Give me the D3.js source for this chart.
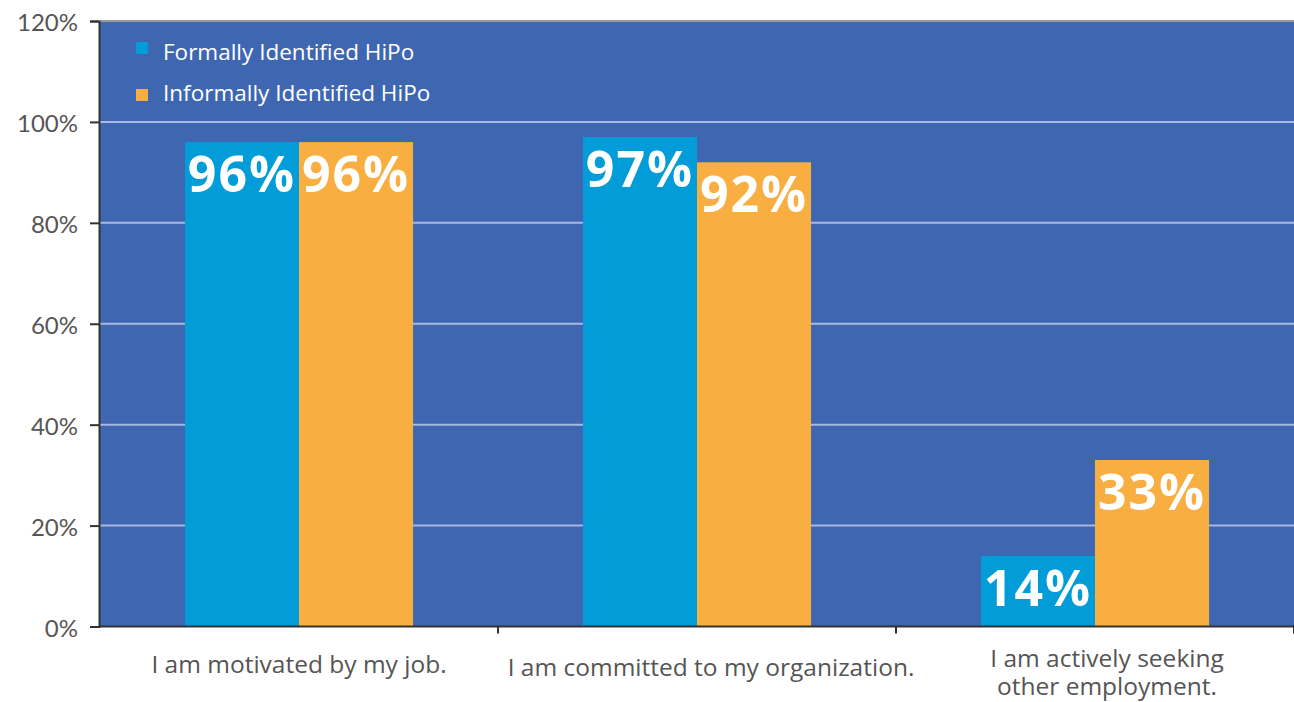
<!DOCTYPE html>
<html>
<head>
<meta charset="utf-8">
<script src="https://cdn.jsdelivr.net/npm/d3@7"></script>
<style>
    body { margin: 0; background: #fff; }
    svg { display: block; }
</style>
</head>
<body>
<div id="chart"></div>
<script>
// chart data
const categories = [
    ['I am motivated by my job.'],
    ['I am committed to my organization.'],
    ['I am actively seeking', 'other employment.']
];
const seriesNames = ['Formally Identified HiPo', 'Informally Identified HiPo'];
const formalValues = [96, 97, 14];
const informalValues = [96, 92, 33];
const yTicks = [0, 20, 40, 60, 80, 100, 120];

const config = {
    width: 1294,
    height: 702,
    margin: { top: 21, right: 0, bottom: 75, left: 100 },
    colors: ['#029dd9', '#f9ae41'],
    plotBg: '#3f67b1',
    grid: '#a9b8e0',
    // category labels sit a little off the band centre in the original
    labelShift: [0, 14, 12],
    labelBaseline: [673, 676, 667]
};

const svg = d3.select('#chart')
    .append('svg')
    .attr('width', config.width)
    .attr('height', config.height);

const x0 = d3.scaleBand()
    .domain(d3.range(categories.length))
    .range([config.margin.left, config.width - config.margin.right]);

const x1 = d3.scaleBand()
    .domain(d3.range(seriesNames.length))
    .range([0, x0.bandwidth()])
    .paddingOuter(0.745)
    .paddingInner(0);

const y = d3.scaleLinear()
    .domain([0, 120])
    .range([config.height - config.margin.bottom - 0.5, config.margin.top]);

// plot background
svg.append('rect')
    .attr('x', config.margin.left)
    .attr('y', y(120))
    .attr('width', config.width - config.margin.left - config.margin.right)
    .attr('height', y(0) - y(120))
    .attr('fill', config.plotBg);

svg.append('line')
    .attr('x1', config.margin.left).attr('x2', config.width)
    .attr('y1', y(120)).attr('y2', y(120))
    .attr('stroke', '#9a9a9a')
    .attr('stroke-width', 2);

// gridlines
svg.append('g')
    .selectAll('line')
    .data(yTicks.filter(d => d > 0 && d < 120))
    .enter()
    .append('line')
    .attr('x1', config.margin.left)
    .attr('x2', config.width)
    .attr('y1', d => y(d))
    .attr('y2', d => y(d))
    .attr('stroke', config.grid)
    .attr('stroke-width', 2);

// bars
const rows = categories.map((c, i) => [formalValues[i], informalValues[i]]);

const groups = svg.append('g')
    .selectAll('g')
    .data(rows)
    .enter()
    .append('g')
    .attr('transform', (d, i) => `translate(${x0(i)},0)`);

groups.selectAll('rect')
    .data(d => d)
    .enter()
    .append('rect')
    .attr('x', (d, j) => x1(j))
    .attr('y', d => y(d))
    .attr('width', x1.bandwidth())
    .attr('height', d => y(0) - y(d))
    .attr('fill', (d, j) => config.colors[j]);

groups.selectAll('text')
    .data(d => d)
    .enter()
    .append('text')
    .attr('x', (d, j) => x1(j) + x1.bandwidth() / 2)
    .attr('y', d => y(d) + 50)
    .attr('text-anchor', 'middle')
    .attr('fill', '#fff')
    .style('font-family', '"Open Sans", sans-serif')
    .style('font-weight', 'bold')
    .style('font-size', '50px')
    .style('letter-spacing', '2px')
    .text(d => d + '%');

// y axis
const yAxis = svg.append('g')
    .attr('transform', `translate(${config.margin.left - 1},0)`)
    .call(d3.axisLeft(y).tickValues(yTicks).tickFormat(d => d + '%').tickSize(9).tickPadding(12));
yAxis.select('.domain').attr('stroke', '#333').attr('stroke-width', 2);
yAxis.selectAll('.tick line').attr('stroke', '#333').attr('stroke-width', 2);
yAxis.selectAll('.tick text')
    .attr('fill', '#555')
    .attr('dy', '0.4em')
    .style('font-family', 'Lato, sans-serif')
    .style('font-size', '24px');

// x axis
const xAxis = svg.append('g')
    .attr('transform', `translate(0,${y(0)})`);
xAxis.append('line')
    .attr('x1', config.margin.left - 1).attr('x2', config.width)
    .attr('stroke', '#333').attr('stroke-width', 2);
xAxis.selectAll('.tick')
    .data(d3.range(1, categories.length + 1))
    .enter()
    .append('line')
    .attr('x1', d => x0(d - 1) + x0.bandwidth())
    .attr('x2', d => x0(d - 1) + x0.bandwidth())
    .attr('y1', 0).attr('y2', 7)
    .attr('stroke', '#333').attr('stroke-width', 2);

const catLabels = svg.append('g')
    .selectAll('text')
    .data(categories)
    .enter()
    .append('text')
    .attr('x', (d, i) => x0(i) + x0.bandwidth() / 2 + config.labelShift[i])
    .attr('y', (d, i) => config.labelBaseline[i])
    .attr('text-anchor', 'middle')
    .attr('fill', '#555')
    .style('font-family', '"Open Sans", sans-serif')
    .style('font-size', '24.5px');

catLabels.selectAll('tspan')
    .data(d => d)
    .enter()
    .append('tspan')
    .attr('x', function () { return d3.select(this.parentNode).attr('x'); })
    .attr('dy', (d, k) => k === 0 ? 0 : 28)
    .text(d => d);

// legend
const legend = svg.append('g')
    .selectAll('g')
    .data(seriesNames)
    .enter()
    .append('g')
    .attr('transform', (d, i) => `translate(136,${60 + i * 41})`);

legend.append('rect')
    .attr('y', (d, i) => i === 0 ? -18 : -12)
    .attr('width', 12)
    .attr('height', 12)
    .attr('fill', (d, i) => config.colors[i]);

legend.append('text')
    .attr('x', 27)
    .attr('y', 0)
    .attr('fill', '#fff')
    .style('font-family', '"Open Sans", sans-serif')
    .style('font-size', '22.5px')
    .text(d => d);
</script>
</body>
</html>
